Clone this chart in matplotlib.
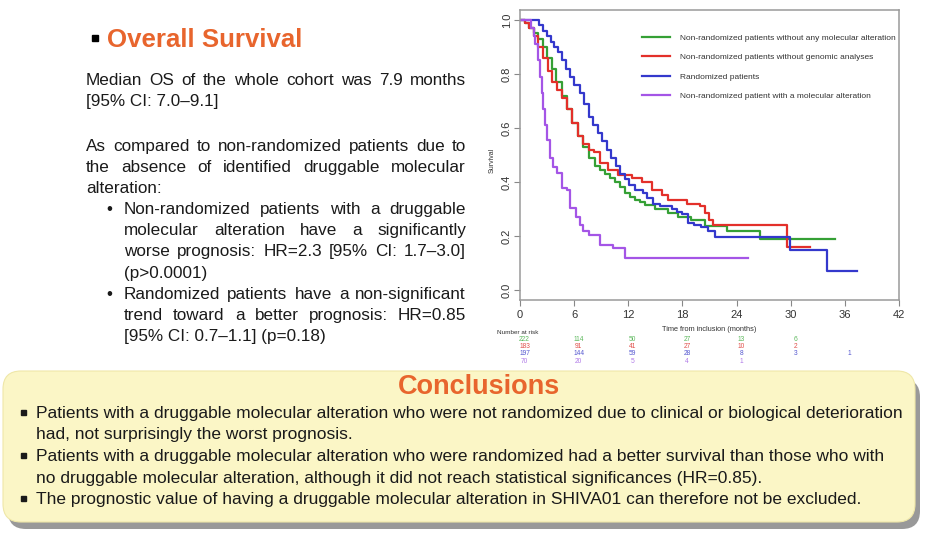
import matplotlib
matplotlib.use('Agg')
import matplotlib.pyplot as plt
from matplotlib.patches import FancyBboxPatch, Rectangle
from matplotlib.transforms import blended_transform_factory

plt.rcParams['font.family'] = ['Liberation Sans', 'DejaVu Sans']

# Kaplan-Meier step points (months, survival)
green_t = [0, 0.6, 1.0, 1.5, 2.0, 2.5, 3.0, 3.5, 4.0, 4.6, 5.2, 5.8, 6.4, 7.0, 7.6, 8.3, 8.9,
           9.4, 10.0, 10.5, 11.1, 11.6, 12.2, 12.7, 13.3, 13.9, 15.0, 16.4, 17.5, 19.0, 20.5,
           22.9, 26.6, 34.9]
green_s = [1.0, 0.99, 0.97, 0.95, 0.93, 0.90, 0.86, 0.82, 0.77, 0.72, 0.67, 0.62, 0.57, 0.53,
           0.49, 0.46, 0.445, 0.43, 0.415, 0.40, 0.38, 0.36, 0.345, 0.333, 0.325, 0.315, 0.30,
           0.285, 0.27, 0.26, 0.237, 0.218, 0.188, 0.188]

red_t = [0, 0.5, 1.0, 1.5, 2.0, 2.5, 3.1, 3.6, 4.1, 4.6, 5.2, 5.8, 6.4, 7.0, 7.6, 8.2, 8.9,
         9.8, 10.9, 12.4, 13.5, 14.6, 15.7, 16.4, 18.5, 20.0, 20.5, 20.9, 21.4, 29.6, 32.1]
red_s = [1.0, 0.99, 0.97, 0.94, 0.90, 0.86, 0.81, 0.77, 0.74, 0.71, 0.67, 0.62, 0.57, 0.54,
         0.52, 0.51, 0.47, 0.444, 0.426, 0.415, 0.40, 0.37, 0.352, 0.333, 0.32, 0.31, 0.285,
         0.26, 0.24, 0.16, 0.16]

blue_t = [0, 2.1, 2.6, 3.0, 3.4, 3.8, 4.2, 4.7, 5.1, 5.5, 6.0, 6.6, 7.1, 7.6, 8.1, 8.6, 9.1,
          9.6, 10.1, 10.6, 11.1, 11.6, 12.1, 12.7, 13.6, 14.1, 14.7, 15.5, 16.8, 17.4, 17.9,
          18.6, 19.3, 20.1, 20.8, 21.6, 29.9, 34.0, 37.4]
blue_s = [1.0, 0.98, 0.96, 0.94, 0.92, 0.90, 0.88, 0.85, 0.82, 0.79, 0.76, 0.73, 0.69, 0.64,
          0.61, 0.58, 0.55, 0.52, 0.49, 0.46, 0.43, 0.41, 0.39, 0.37, 0.36, 0.34, 0.32, 0.31,
          0.30, 0.29, 0.28, 0.25, 0.24, 0.235, 0.22, 0.195, 0.148, 0.072, 0.072]

purple_t = [0, 1.2, 1.5, 1.7, 2.0, 2.2, 2.4, 2.6, 2.8, 3.0, 3.3, 3.7, 4.1, 4.6, 5.2, 5.5, 6.2,
            6.6, 7.0, 7.6, 8.9, 10.3, 11.6, 25.3]
purple_s = [1.0, 0.97, 0.94, 0.91, 0.85, 0.79, 0.73, 0.67, 0.61, 0.556, 0.49, 0.455, 0.433,
            0.378, 0.37, 0.305, 0.27, 0.24, 0.22, 0.204, 0.167, 0.154, 0.117, 0.117]

labels = ['Non-randomized patients without any molecular alteration',
          'Non-randomized patients without genomic analyses',
          'Randomized patients',
          'Non-randomized patient with a molecular alteration']

# number at risk
risk_times = [0, 6, 12, 18, 24, 30, 36]
risk_green = [222, 114, 50, 27, 13, 6]
risk_red = [183, 91, 41, 27, 10, 2]
risk_blue = [197, 144, 59, 28, 8, 3, 1]
risk_purple = [70, 20, 5, 4, 1]

x_ticks = [0, 6, 12, 18, 24, 30, 36, 42]
y_ticks = [0.0, 0.2, 0.4, 0.6, 0.8, 1.0]

line_colors = ['#35a035', '#e3302a', '#3438cc', '#a455e6']
risk_colors = ['#5cb85c', '#e0504a', '#5558d0', '#b07ae8']
orange = '#e8652d'
ink = '#1a1a1a'

summary_lines = [
    ('Median OS of the whole cohort was 7.9 months', True),
    ('[95% CI: 7.0\u20139.1]', False),
    (None, False),
    ('As compared to non-randomized patients due to', True),
    ('the absence of identified druggable molecular', True),
    ('alteration:', False),
]
bullet_items = [
    [('Non-randomized patients with a druggable', True),
     ('molecular alteration have a significantly', True),
     ('worse prognosis: HR=2.3 [95% CI: 1.7\u20133.0]', True),
     ('(p>0.0001)', False)],
    [('Randomized patients have a non-significant', True),
     ('trend toward a better prognosis: HR=0.85', True),
     ('[95% CI: 0.7\u20131.1] (p=0.18)', False)],
]
conclusion_items = [
    ['Patients with a druggable molecular alteration who were not randomized due to clinical or biological deterioration',
     'had, not surprisingly the worst prognosis.'],
    ['Patients with a druggable molecular alteration who were randomized had a better survival than those who with',
     'no druggable molecular alteration, although it did not reach statistical significances (HR=0.85).'],
    ['The prognostic value of having a druggable molecular alteration in SHIVA01 can therefore not be excluded.'],
]

W, H = 925, 540
fig = plt.figure(figsize=(W / 100, H / 100), dpi=100)
bg = fig.add_axes([0, 0, 1, 1])
bg.set_xlim(0, W)
bg.set_ylim(H, 0)
bg.axis('off')
renderer = fig.canvas.get_renderer()


def text_width(s, size, **kw):
    t = bg.text(0, 0, s, fontsize=size, **kw)
    w = t.get_window_extent(renderer).width
    t.remove()
    return w


def put_line(s, x0, x1, y, size, justify):
    if not justify:
        bg.text(x0, y, s, fontsize=size, color=ink, va='baseline')
        return
    words = s.split(' ')
    widths = [text_width(w, size) for w in words]
    gap = (x1 - x0 - sum(widths)) / (len(words) - 1)
    x = x0
    for w, wd in zip(words, widths):
        bg.text(x, y, w, fontsize=size, color=ink, va='baseline')
        x += wd + gap


# left column
bg.add_patch(Rectangle((91.5, 35), 6, 6, color='black'))
bg.text(107, 47, 'Overall Survival', fontsize=18.6, fontweight='bold', color=orange,
        va='baseline')

body = 12.3
y = 85
for s, just in summary_lines:
    if s is not None:
        put_line(s, 86, 466, y, body, just)
    y += 21 if s is not None else 24
y = 214
for item in bullet_items:
    bg.text(106, y, '\u2022', fontsize=body, color=ink, va='baseline')
    for s, just in item:
        put_line(s, 124, 466, y, body, just)
        y += 21.2

# conclusions box
bg.add_patch(FancyBboxPatch((8, 379), 912, 150, boxstyle='round,pad=0,rounding_size=18',
                            facecolor='#808080', edgecolor='none', alpha=0.8))
bg.add_patch(FancyBboxPatch((3, 371), 912, 151, boxstyle='round,pad=0,rounding_size=18',
                            facecolor='#fbf6c6', edgecolor='#efe7a8', linewidth=0.8))
bg.text(479, 394, 'Conclusions', fontsize=19.5, fontweight='bold', color=orange,
        ha='center', va='baseline')

csize = 12 * 872 / text_width(conclusion_items[0][0], 12)
y = 418
for item in conclusion_items:
    bg.add_patch(Rectangle((21, y - 8), 4.5, 4.5, color=ink))
    for s in item:
        bg.text(36, y, s, fontsize=csize, color=ink, va='baseline')
        y += 21.5

# survival plot
ax = fig.add_axes([520 / W, 1 - 300 / H, 379 / W, 290 / H])
ax.set_facecolor('white')
curves = [(green_t, green_s), (red_t, red_s), (blue_t, blue_s), (purple_t, purple_s)]
for (t, s), c, lab in zip(curves, line_colors, labels):
    ax.step(t, s, where='post', color=c, lw=1.6, label=lab)

ax.set_xlim(0, 42)
ax.set_ylim(-0.037, 1.037)
ax.set_xticks(x_ticks)
ax.set_yticks(y_ticks)
ax.set_yticklabels([f'{v:.1f}' for v in y_ticks], rotation=90, va='center')
ax.tick_params(labelsize=8, length=4, width=0.8, direction='out')
ax.tick_params(axis='x', colors='#888888', labelcolor='#333333')
ax.tick_params(axis='y', colors='#888888', labelcolor='#333333', pad=2)
for sp in ax.spines.values():
    sp.set_color('#9a9a9a')
    sp.set_linewidth(1.1)
ax.set_xlabel('Time from inclusion (months)', fontsize=5.3, color='#333333', labelpad=4)
bg.text(492, 160, 'Survival', fontsize=5, rotation=90, ha='center', va='center', color='#333333')

leg = ax.legend(loc='upper left', bbox_to_anchor=(0.322, 0.918), frameon=False, fontsize=6,
                handlelength=3.3, handletextpad=1.3, labelspacing=1.4, borderpad=0,
                borderaxespad=0)
for txt in leg.get_texts():
    txt.set_color('#333333')

# number at risk table under the axis
tr = blended_transform_factory(ax.transData, bg.transData)
bg.text(497, 333, 'Number at risk', fontsize=4.6, color='#333333', va='center')
risk_rows = [risk_green, risk_red, risk_blue, risk_purple]
for i, (row, c) in enumerate(zip(risk_rows, risk_colors)):
    for t, n in zip(risk_times, row):
        ax.text(t + 0.5, 339.5 + i * 7.2, str(n), transform=tr, fontsize=4.8, color=c,
                ha='center', va='center', clip_on=False)

fig.savefig('out.png', dpi=100)
